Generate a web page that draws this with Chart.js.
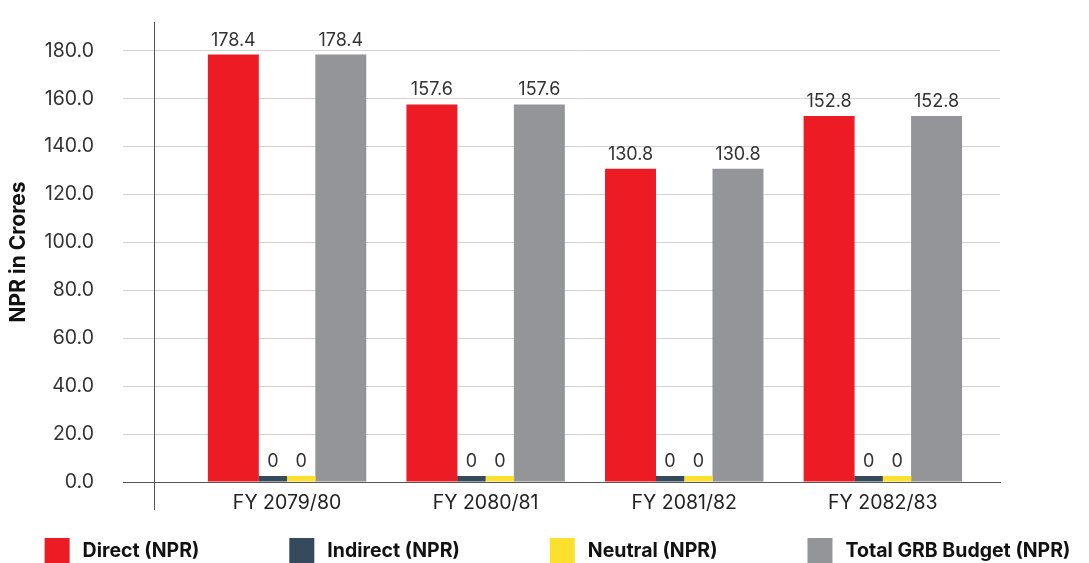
<!DOCTYPE html>
<html>
<head>
<meta charset="utf-8">
<script src="https://cdn.jsdelivr.net/npm/chart.js@4.4.1/dist/chart.umd.min.js"></script>
<style>
  html, body { margin: 0; padding: 0; background: #ffffff; }
  #wrap { width: 1089px; height: 563px; }
</style>
</head>
<body>
<div id="wrap"><canvas id="grb" width="1089" height="563"></canvas></div>
<script>
// Fiscal years and the GRB budget split (NPR in crores)
const categories = ['FY 2079/80', 'FY 2080/81', 'FY 2081/82', 'FY 2082/83'];
const direct     = [178.4, 157.6, 130.8, 152.8];
const indirect   = [0, 0, 0, 0];
const neutral    = [0, 0, 0, 0];
const totalGRB   = [178.4, 157.6, 130.8, 152.8];
const yTickValues = [0, 20, 40, 60, 80, 100, 120, 140, 160, 180];

const FONT = 'Inter, "Liberation Sans", Arial, sans-serif';
const RED = '#ED1C24', NAVY = '#364A5E', YELLOW = '#FDE02D', GRAY = '#939598';
const AXIS = '#555555', GRID = '#D3D3D3';

// Horizontal range in category units; the left edge carries the axis-crossing mark
const X_MIN = -0.67, X_MAX = 3.59;
const indexTicks = () => categories.map((_, i) => ({ value: i }));
const toPoints = arr => arr.map((v, i) => ({ x: i, y: v }));

// Group geometry: wide outer bars (direct, total) and narrow inner bars (indirect, neutral)
const WIDE = { categoryPercentage: 0.7215, barPercentage: 1.423 };
const NARROW = { categoryPercentage: 0.5738, barPercentage: 1 };

// Numbers printed above every bar
const valueLabels = {
  id: 'valueLabels',
  afterDatasetsDraw(chart) {
    const ctx = chart.ctx;
    ctx.save();
    ctx.font = '18px ' + FONT;
    ctx.fillStyle = '#333333';
    ctx.textAlign = 'center';
    ctx.textBaseline = 'alphabetic';
    chart.data.datasets.forEach((ds, di) => {
      const meta = chart.getDatasetMeta(di);
      meta.data.forEach((bar, i) => {
        const v = ds.data[i].y;
        const txt = v === 0 ? '0' : v.toFixed(1);
        ctx.fillText(txt, bar.x, bar.y - 9);
      });
    });
    ctx.restore();
  }
};

// Legend row along the bottom edge
const bottomLegend = {
  id: 'bottomLegend',
  afterDraw(chart) {
    const ctx = chart.ctx;
    const box = 25, gap = 13, spacing = 90;
    const top = chart.height - box;
    ctx.save();
    ctx.font = '700 19.5px ' + FONT;
    const items = chart.data.datasets.map(ds => ({
      label: ds.label, color: ds.backgroundColor,
      w: box + gap + ctx.measureText(ds.label).width
    }));
    const total = items.reduce((s, it) => s + it.w, 0) + spacing * (items.length - 1);
    let x = 557.5 - total / 2;
    ctx.textBaseline = 'middle';
    ctx.textAlign = 'left';
    items.forEach(it => {
      ctx.fillStyle = it.color;
      ctx.fillRect(x, top, box, box);
      ctx.fillStyle = '#111111';
      ctx.fillText(it.label, x + box + gap, top + box / 2 + 1);
      x += it.w + spacing;
    });
    ctx.restore();
  }
};

new Chart(document.getElementById('grb'), {
  type: 'bar',
  data: {
    datasets: [
      Object.assign({ label: 'Direct (NPR)', data: toPoints(direct), xAxisID: 'xBars',
        backgroundColor: RED }, WIDE),
      Object.assign({ label: 'Indirect (NPR)', data: toPoints(indirect), xAxisID: 'xBars',
        backgroundColor: NAVY, minBarLength: 6 }, NARROW),
      Object.assign({ label: 'Neutral (NPR)', data: toPoints(neutral), xAxisID: 'xBars',
        backgroundColor: YELLOW, minBarLength: 6 }, NARROW),
      Object.assign({ label: 'Total GRB Budget (NPR)', data: toPoints(totalGRB), xAxisID: 'xBars',
        backgroundColor: GRAY }, WIDE)
    ]
  },
  options: {
    responsive: false,
    animation: false,
    devicePixelRatio: 1,
    layout: { padding: { top: 22, right: 89, bottom: 0, left: 0 } },
    plugins: { legend: { display: false }, tooltip: { enabled: false } },
    scales: {
      // Visible category axis: labels, baseline and the crossing mark below the origin
      x: {
        type: 'linear', position: 'bottom', min: X_MIN, max: X_MAX, offset: false,
        afterBuildTicks: s => { s.ticks = [{ value: X_MIN }].concat(indexTicks()); },
        afterFit: s => { s.height = 81; s.paddingLeft = 0; s.paddingRight = 0; },
        grid: {
          display: true, offset: false, drawOnChartArea: false, drawTicks: true, tickLength: 28,
          color: c => (c.tick && c.tick.value === X_MIN) ? AXIS : 'rgba(0,0,0,0)'
        },
        border: { display: true, color: AXIS, width: 1 },
        ticks: {
          autoSkip: false, maxRotation: 0, minRotation: 0, padding: -19,
          color: '#222222', font: { family: FONT, size: 19.5 },
          callback: v => Number.isInteger(v) ? categories[v] : ''
        }
      },
      // Invisible index axis the bars are laid out on
      xBars: {
        type: 'linear', axis: 'x', position: 'bottom', display: true,
        min: X_MIN, max: X_MAX, offset: false,
        grid: { display: false, offset: false, drawTicks: false },
        border: { display: false },
        ticks: { display: false },
        afterBuildTicks: s => { s.ticks = indexTicks(); },
        afterFit: s => { s.height = 0; s.paddingLeft = 0; s.paddingRight = 0; }
      },
      y: {
        min: 0, max: 192,
        afterBuildTicks: s => { s.ticks = yTickValues.map(v => ({ value: v })); },
        afterFit: s => { s.width = 154; s.paddingTop = 0; s.paddingBottom = 0; },
        grid: {
          color: c => (c.tick && c.tick.value === 0) ? AXIS : GRID,
          lineWidth: 1, drawTicks: true, tickLength: 31
        },
        border: { display: true, color: AXIS, width: 1 },
        ticks: {
          padding: 29, color: '#333333', font: { family: FONT, size: 19.5 },
          callback: v => v.toFixed(1)
        },
        title: {
          display: true, text: 'NPR in Crores', color: '#111111',
          font: { family: FONT, size: 21, weight: '700' },
          padding: { top: 6, bottom: 0 }
        }
      }
    }
  },
  plugins: [valueLabels, bottomLegend]
});
</script>
</body>
</html>
